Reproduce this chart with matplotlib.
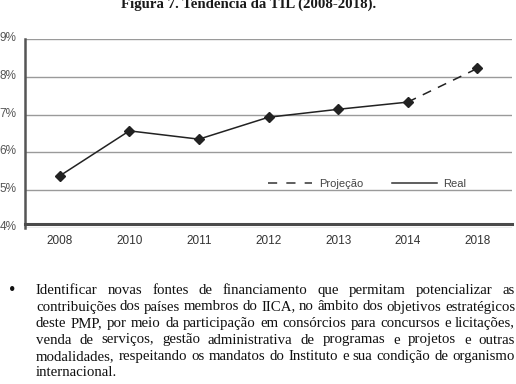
import matplotlib
matplotlib.use('Agg')
import matplotlib.pyplot as plt
import matplotlib.transforms as mtransforms
from matplotlib.lines import Line2D

anos = ['2008', '2010', '2011', '2012', '2013', '2014', '2018']
til = [5.38, 6.57, 6.35, 6.93, 7.14, 7.33, 8.22]
ultimo_real = 5  # indice de 2014: daqui em diante e projecao
yticks = [4, 5, 6, 7, 8, 9]
ylabels = ['4%', '5%', '6%', '7%', '8%', '9%']
legenda = ['Projeção', 'Real']
titulo = 'Figura 7. Tendência da TIL (2008-2018).'
paragrafo = [
    'Identificar novas fontes de financiamento que permitam potencializar as',
    'contribuições dos países membros do IICA, no âmbito dos objetivos estratégicos',
    'deste PMP, por meio da participação em consórcios para concursos e licitações,',
    'venda de serviços, gestão administrativa de programas e projetos e outras',
    'modalidades, respeitando os mandatos do Instituto e sua condição de organismo',
    'internacional.',
]

plt.rcParams['font.family'] = ['Liberation Sans', 'DejaVu Sans']

W, H = 516, 384
fig = plt.figure(figsize=(W / 100, H / 100), dpi=100)
ax = fig.add_axes([25 / W, (H - 228) / H, 487 / W, 189 / H])

x = list(range(len(anos)))
ax.plot(x[:ultimo_real + 1], til[:ultimo_real + 1], color='#222222', lw=1.1)
ax.plot(x[ultimo_real:], til[ultimo_real:], color='#222222', lw=1.1, ls=(0, (6, 5)))
ax.plot(x, til, ls='none', marker='D', ms=5, color='#222222')

ax.set_xlim(-0.5, 6.5)
ax.set_ylim(4, 9)
ax.set_xticks(x, anos)
ax.set_yticks(yticks, ylabels)
ax.grid(axis='y', color='#9a9a9a', lw=1)
ax.set_axisbelow(True)
for s in ['top', 'right']:
    ax.spines[s].set_visible(False)
ax.spines['left'].set_color('#555555')
ax.spines['left'].set_linewidth(1.8)
ax.spines['bottom'].set_color('#4a4a4a')
ax.spines['bottom'].set_linewidth(2.2)
ax.spines['bottom'].set_position(('data', 4.1))
ax.tick_params(length=0, labelsize=8.5)
ax.tick_params(axis='y', pad=6, colors='#555555')
ax.tick_params(axis='x', pad=8, colors='#333333')
desloc = mtransforms.ScaledTranslation(0, 2.5 / 100, fig.dpi_scale_trans)
for lbl in ax.get_yticklabels():
    lbl.set_transform(lbl.get_transform() + desloc)

handles = [Line2D([], [], color='#333333', lw=1.1, ls=(0, (6, 6))),
           Line2D([], [], color='#333333', lw=1.1)]
fig.legend(handles, legenda, loc='center left', bbox_to_anchor=(268 / W, 1 - 184 / H),
           ncol=2, frameon=False, fontsize=8, handlelength=4, handletextpad=0.6,
           columnspacing=2.6, borderpad=0, borderaxespad=0, labelcolor='#444444')

fig.text(249 / W, 1 - 7.5 / H, titulo, ha='center', va='baseline',
         family='Liberation Serif', weight='bold', fontsize=10.7, color='#1a1a1a')

# paragrafo justificado
renderer = fig.canvas.get_renderer()
serif = 'Liberation Serif'


def largura(s, fs):
    t = fig.text(0, 0, s, fontsize=fs, family=serif)
    w = t.get_window_extent(renderer).width
    t.remove()
    return w


x0, x1 = 36, 515
fs = 10 * (x1 - x0) / largura(paragrafo[1], 10)
espaco = largura('a b', fs) - largura('ab', fs)
for i, linha in enumerate(paragrafo):
    yb = 1 - (294 + 16.5 * i) / H
    palavras = linha.split()
    ws = [largura(p, fs) for p in palavras]
    if i < len(paragrafo) - 1 and len(palavras) > 1:
        gap = (x1 - x0 - sum(ws)) / (len(palavras) - 1)
    else:
        gap = espaco
    xp = x0
    for p, w in zip(palavras, ws):
        fig.text(xp / W, yb, p, fontsize=fs, family=serif, color='#111111',
                 ha='left', va='baseline')
        xp += w + gap

fig.text(12.5 / W, 1 - 295 / H, '•', fontsize=fs * 1.25, family=serif, color='#111111',
         ha='center', va='baseline')

fig.savefig('out.png', dpi=100)
